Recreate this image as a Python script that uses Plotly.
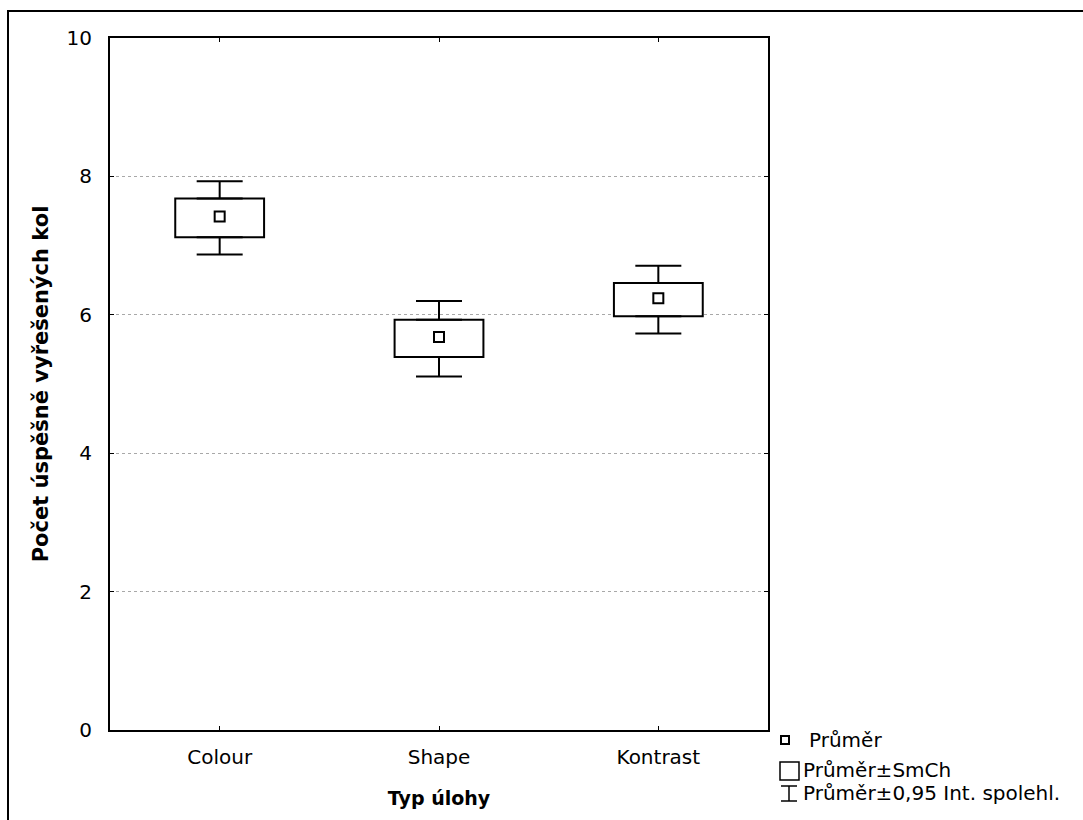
import plotly.graph_objects as go

# ---- data ----
categories = ["Colour", "Shape", "Kontrast"]
mean = [7.42, 5.68, 6.24]
se_low = [7.12, 5.39, 5.98]
se_high = [7.68, 5.93, 6.46]
ci_low = [6.87, 5.11, 5.73]
ci_high = [7.93, 6.20, 6.71]
y_ticks = [0, 2, 4, 6, 8, 10]
legend_labels = ["Průměr", "Průměr±SmCh", "Průměr±0,95 Int. spolehl."]

x_pos = list(range(len(categories)))

W, H = 1083, 820
L, R, T, B = 110, 315, 38, 90
PW, PH = W - L - R, H - T - B


def px(x):
    return (x - L) / PW


def py(y):
    return (H - B - y) / PH


FONT = "DejaVu Sans, Liberation Sans, Arial, sans-serif"

fig = go.Figure()

# SE boxes
fig.add_trace(go.Bar(
    x=x_pos,
    base=se_low,
    y=[h - l for h, l in zip(se_high, se_low)],
    width=0.405,
    marker=dict(color="white", line=dict(color="black", width=2)),
    showlegend=False, hoverinfo="skip",
))

# upper whiskers (from box top to CI high)
fig.add_trace(go.Scatter(
    x=x_pos, y=se_high, mode="markers",
    marker=dict(size=1, opacity=0),
    error_y=dict(type="data", symmetric=False,
                 array=[c - s for c, s in zip(ci_high, se_high)],
                 arrayminus=[0] * len(categories),
                 width=23, thickness=2, color="black"),
    showlegend=False, hoverinfo="skip",
))
# lower whiskers
fig.add_trace(go.Scatter(
    x=x_pos, y=se_low, mode="markers",
    marker=dict(size=1, opacity=0),
    error_y=dict(type="data", symmetric=False,
                 array=[0] * len(categories),
                 arrayminus=[s - c for s, c in zip(se_low, ci_low)],
                 width=23, thickness=2, color="black"),
    showlegend=False, hoverinfo="skip",
))
# means
fig.add_trace(go.Scatter(
    x=x_pos, y=mean, mode="markers",
    marker=dict(symbol="square-open", size=10, color="black",
                line=dict(width=2, color="black")),
    showlegend=False,
))

fig.update_layout(
    width=W, height=H, autosize=False,
    margin=dict(l=L, r=R, t=T, b=B),
    plot_bgcolor="white", paper_bgcolor="white",
    font=dict(family=FONT, color="black", size=20),
    showlegend=False,
    xaxis=dict(
        range=[-0.5, 2.5], tickvals=x_pos, ticktext=categories,
        showline=True, linecolor="black", linewidth=2, mirror="ticks",
        ticks="inside", ticklen=4, tickcolor="black", tickwidth=1,
        showgrid=False, zeroline=False,
        tickfont=dict(size=20), ticklabelstandoff=8,
        title=dict(text="<b>Typ úlohy</b>", font=dict(size=19), standoff=24),
    ),
    yaxis=dict(
        range=[0, 10], tickvals=y_ticks,
        showline=True, linecolor="black", linewidth=2, mirror="ticks",
        ticks="inside", ticklen=4, tickcolor="black", tickwidth=1,
        showgrid=True, gridcolor="#a8a8a8", griddash="dot", gridwidth=1,
        zeroline=False,
        tickfont=dict(size=20), ticklabelstandoff=12,
        title=dict(text="<b>Počet úspěšně vyřešených kol</b>", font=dict(size=21), standoff=12),
    ),
)

shapes = []
# outer frame (top + left visible)
shapes.append(dict(type="rect", xref="paper", yref="paper",
                   x0=px(8), x1=px(1100), y0=py(840), y1=py(11),
                   line=dict(color="black", width=2), fillcolor="rgba(0,0,0,0)", layer="above"))
# legend symbols
shapes.append(dict(type="rect", xref="paper", yref="paper",
                   x0=px(781), x1=px(789), y0=py(744), y1=py(736),
                   line=dict(color="black", width=2)))
shapes.append(dict(type="rect", xref="paper", yref="paper",
                   x0=px(780), x1=px(799), y0=py(780), y1=py(762),
                   line=dict(color="black", width=1.5)))
shapes.append(dict(type="line", xref="paper", yref="paper",
                   x0=px(789), x1=px(789), y0=py(801), y1=py(786),
                   line=dict(color="black", width=1.5)))
shapes.append(dict(type="line", xref="paper", yref="paper",
                   x0=px(781), x1=px(797), y0=py(786), y1=py(786),
                   line=dict(color="black", width=1.5)))
shapes.append(dict(type="line", xref="paper", yref="paper",
                   x0=px(781), x1=px(797), y0=py(801), y1=py(801),
                   line=dict(color="black", width=1.5)))
fig.update_layout(shapes=shapes)

leg_x = [807, 801, 801]
leg_y = [740, 770, 793]
for t, lx, ly in zip(legend_labels, leg_x, leg_y):
    fig.add_annotation(text=t, xref="paper", yref="paper", x=px(lx), y=py(ly),
                       xanchor="left", yanchor="middle", showarrow=False,
                       font=dict(size=20, family=FONT))

fig.write_html("out.html")
